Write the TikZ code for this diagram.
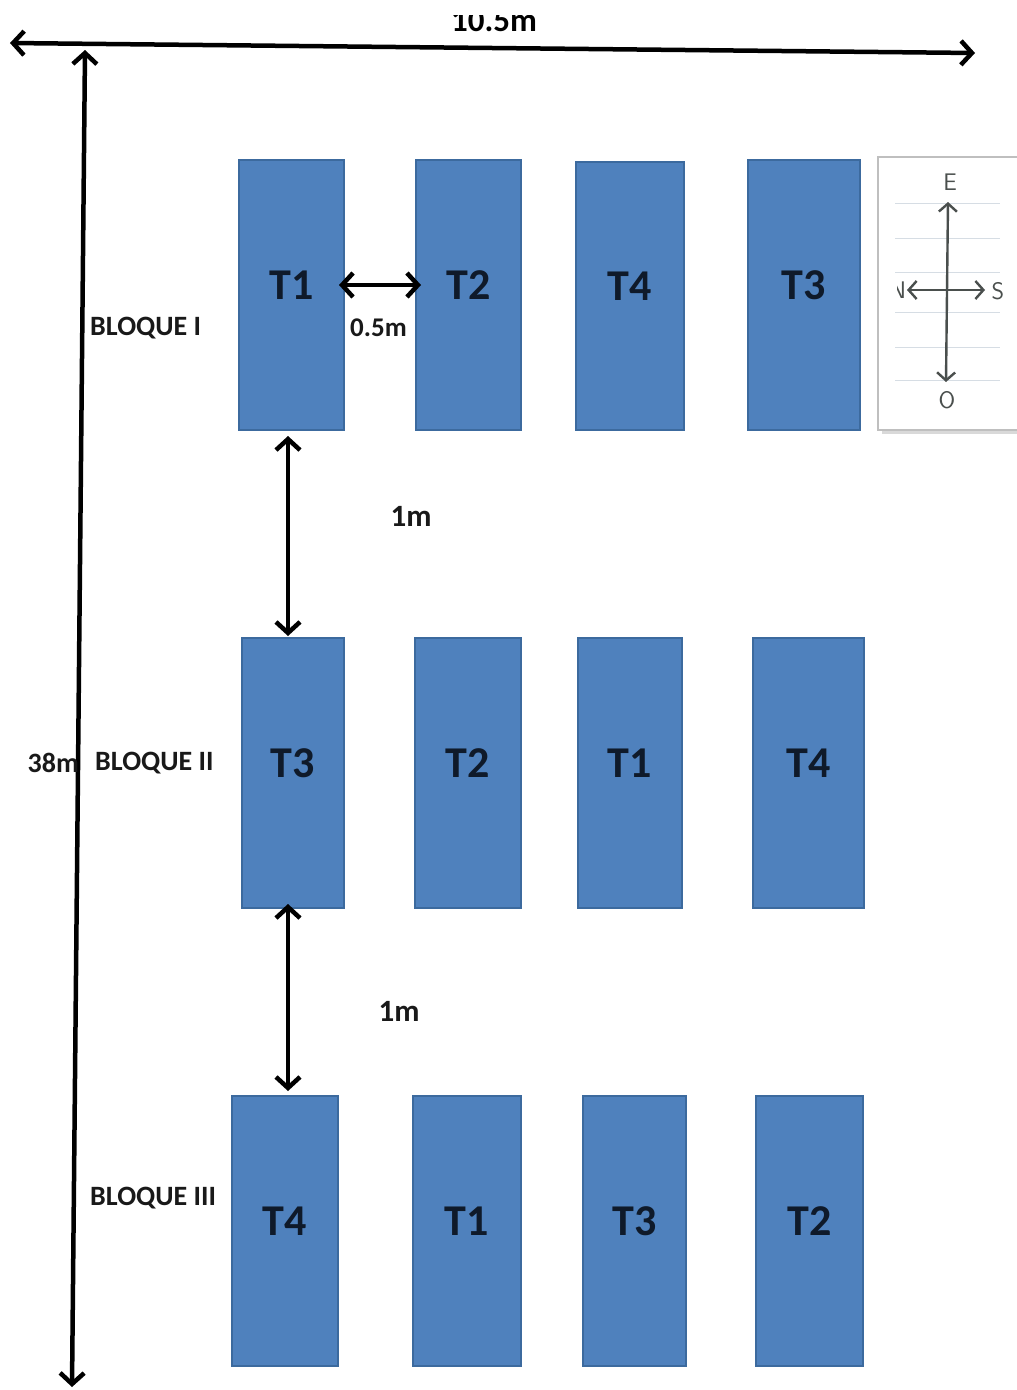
\documentclass[tikz,border=0pt]{standalone}
\usepackage{fontspec}
\setmainfont{Carlito}
\usetikzlibrary{arrows.meta}
\definecolor{plotblue}{HTML}{4F81BD}
\definecolor{plotedge}{HTML}{3C6A9E}
\definecolor{labelink}{HTML}{0F1A2A}
\definecolor{compassink}{HTML}{4A4F4D}
\definecolor{ruleline}{HTML}{D6DDE4}

\begin{document}
\begin{tikzpicture}[x=1pt,y=-1pt,
  plotbox/.style={draw=plotedge, fill=plotblue, line width=2pt,
    minimum height=270pt, inner sep=0pt},
  tlabel/.style={font=\fontsize{44}{50}\selectfont\bfseries, text=labelink},
  note/.style={font=\fontsize{28}{32}\selectfont\bfseries, text=black!90, inner sep=0pt},
  dim/.style={line width=4.5pt, line cap=round,
    {Straight Barb[length=11pt,width=24pt,line width=4.5pt]}-{Straight Barb[length=11pt,width=24pt,line width=4.5pt]}},
  cdir/.style={draw=compassink, line width=2.4pt,
    {Straight Barb[length=8pt,width=18pt,line width=2.4pt]}-{Straight Barb[length=8pt,width=18pt,line width=2.4pt]}},
  cletter/.style={font=\fontsize{24}{26}\selectfont\sffamily, text=compassink, inner sep=0pt},
]
\useasboundingbox (0,0) rectangle (1017,1390);

% overall dimensions
\begin{scope}
  \clip (0,15) rectangle (1017,1390);
  \node[font=\fontsize{33}{36}\selectfont\bfseries, anchor=base] (wlab) at (494,31) {10.5m};
\end{scope}
\coordinate (wL) at (10,43);
\coordinate (wR) at (975,53);
\draw[dim] (wL) -- (wR);
\coordinate (hT) at (85,50);
\coordinate (hB) at (72,1387);
\draw[dim] (hT) -- (hB);
\node[note, anchor=east] (hlab) at (79,763) {38m};

% block I
\node[plotbox, minimum width=105pt, label={[tlabel,yshift=10pt]center:T1}] (a1) at (291.5,295) {};
\node[plotbox, minimum width=105pt, label={[tlabel,yshift=10pt]center:T2}] (a2) at (468.5,295) {};
\node[plotbox, minimum width=108pt, minimum height=268pt, label={[tlabel,yshift=10pt]center:T4}] (a3) at (630,296) {};
\node[plotbox, minimum width=112pt, label={[tlabel,yshift=10pt]center:T3}] (a4) at (804,295) {};
\node[note, anchor=west] (bI) at (90,328) {BLOQUE I};

% block II
\node[plotbox, minimum width=102pt, label={[tlabel,yshift=10pt]center:T3}] (b1) at (293,773) {};
\node[plotbox, minimum width=106pt, label={[tlabel,yshift=10pt]center:T2}] (b2) at (468,773) {};
\node[plotbox, minimum width=104pt, label={[tlabel,yshift=10pt]center:T1}] (b3) at (630,773) {};
\node[plotbox, minimum width=111pt, label={[tlabel,yshift=10pt]center:T4}] (b4) at (808.5,773) {};
\node[note, anchor=west] (bII) at (95,763) {BLOQUE II};

% block III
\node[plotbox, minimum width=106pt, label={[tlabel,yshift=10pt]center:T4}] (c1) at (285,1231) {};
\node[plotbox, minimum width=108pt, label={[tlabel,yshift=10pt]center:T1}] (c2) at (467,1231) {};
\node[plotbox, minimum width=103pt, label={[tlabel,yshift=10pt]center:T3}] (c3) at (634.5,1231) {};
\node[plotbox, minimum width=107pt, label={[tlabel,yshift=10pt]center:T2}] (c4) at (809.5,1231) {};
\node[note, anchor=west] (bIII) at (90,1198) {BLOQUE III};

% spacings
\draw[dim] ([shift={(-6,-10)}]a1.east) -- ([shift={(6,-10)}]a2.west);
\node[note, font=\fontsize{27}{30}\selectfont\bfseries, anchor=west] (gap05) at (350,328) {0.5m};
\draw[dim] ([shift={(-3.5,5)}]a1.south) -- ([shift={(-5,-1)}]b1.north);
\node[note, font=\fontsize{31}{34}\selectfont\bfseries] (gap1a) at (411,516) {1m};
\draw[dim] ([shift={(-5,-5)}]b1.south) -- ([shift={(3,-4)}]c1.north);
\node[note, font=\fontsize{31}{34}\selectfont\bfseries] (gap1b) at (399,1011) {1m};

% compass inset
\fill[black!15] (882,161) rectangle (1017,434);
\draw[black!25, fill=white, line width=1.5pt] (878,157) rectangle (1020,430);
\foreach \yy in {203,238,272,312,347,380}
  \draw[ruleline, line width=1pt] (895,\yy) -- (1000,\yy);
\node[cletter] (cE) at (950,182) {E};
\node[cletter] (cO) at (947,400) {O};
\node[cletter] (cS) at (998,291) {S};
\begin{scope}
  \clip (897,250) rectangle (1017,330);
  \node[cletter] (cN) at (898,290) {N};
\end{scope}
\coordinate (cTop) at (948,202);
\coordinate (cBot) at (946,382);
\coordinate (cLeft) at (907,290);
\coordinate (cRight) at (985,290);
\draw[cdir] (cTop) -- (cBot);
\draw[cdir] (cLeft) -- (cRight);
\end{tikzpicture}
\end{document}
